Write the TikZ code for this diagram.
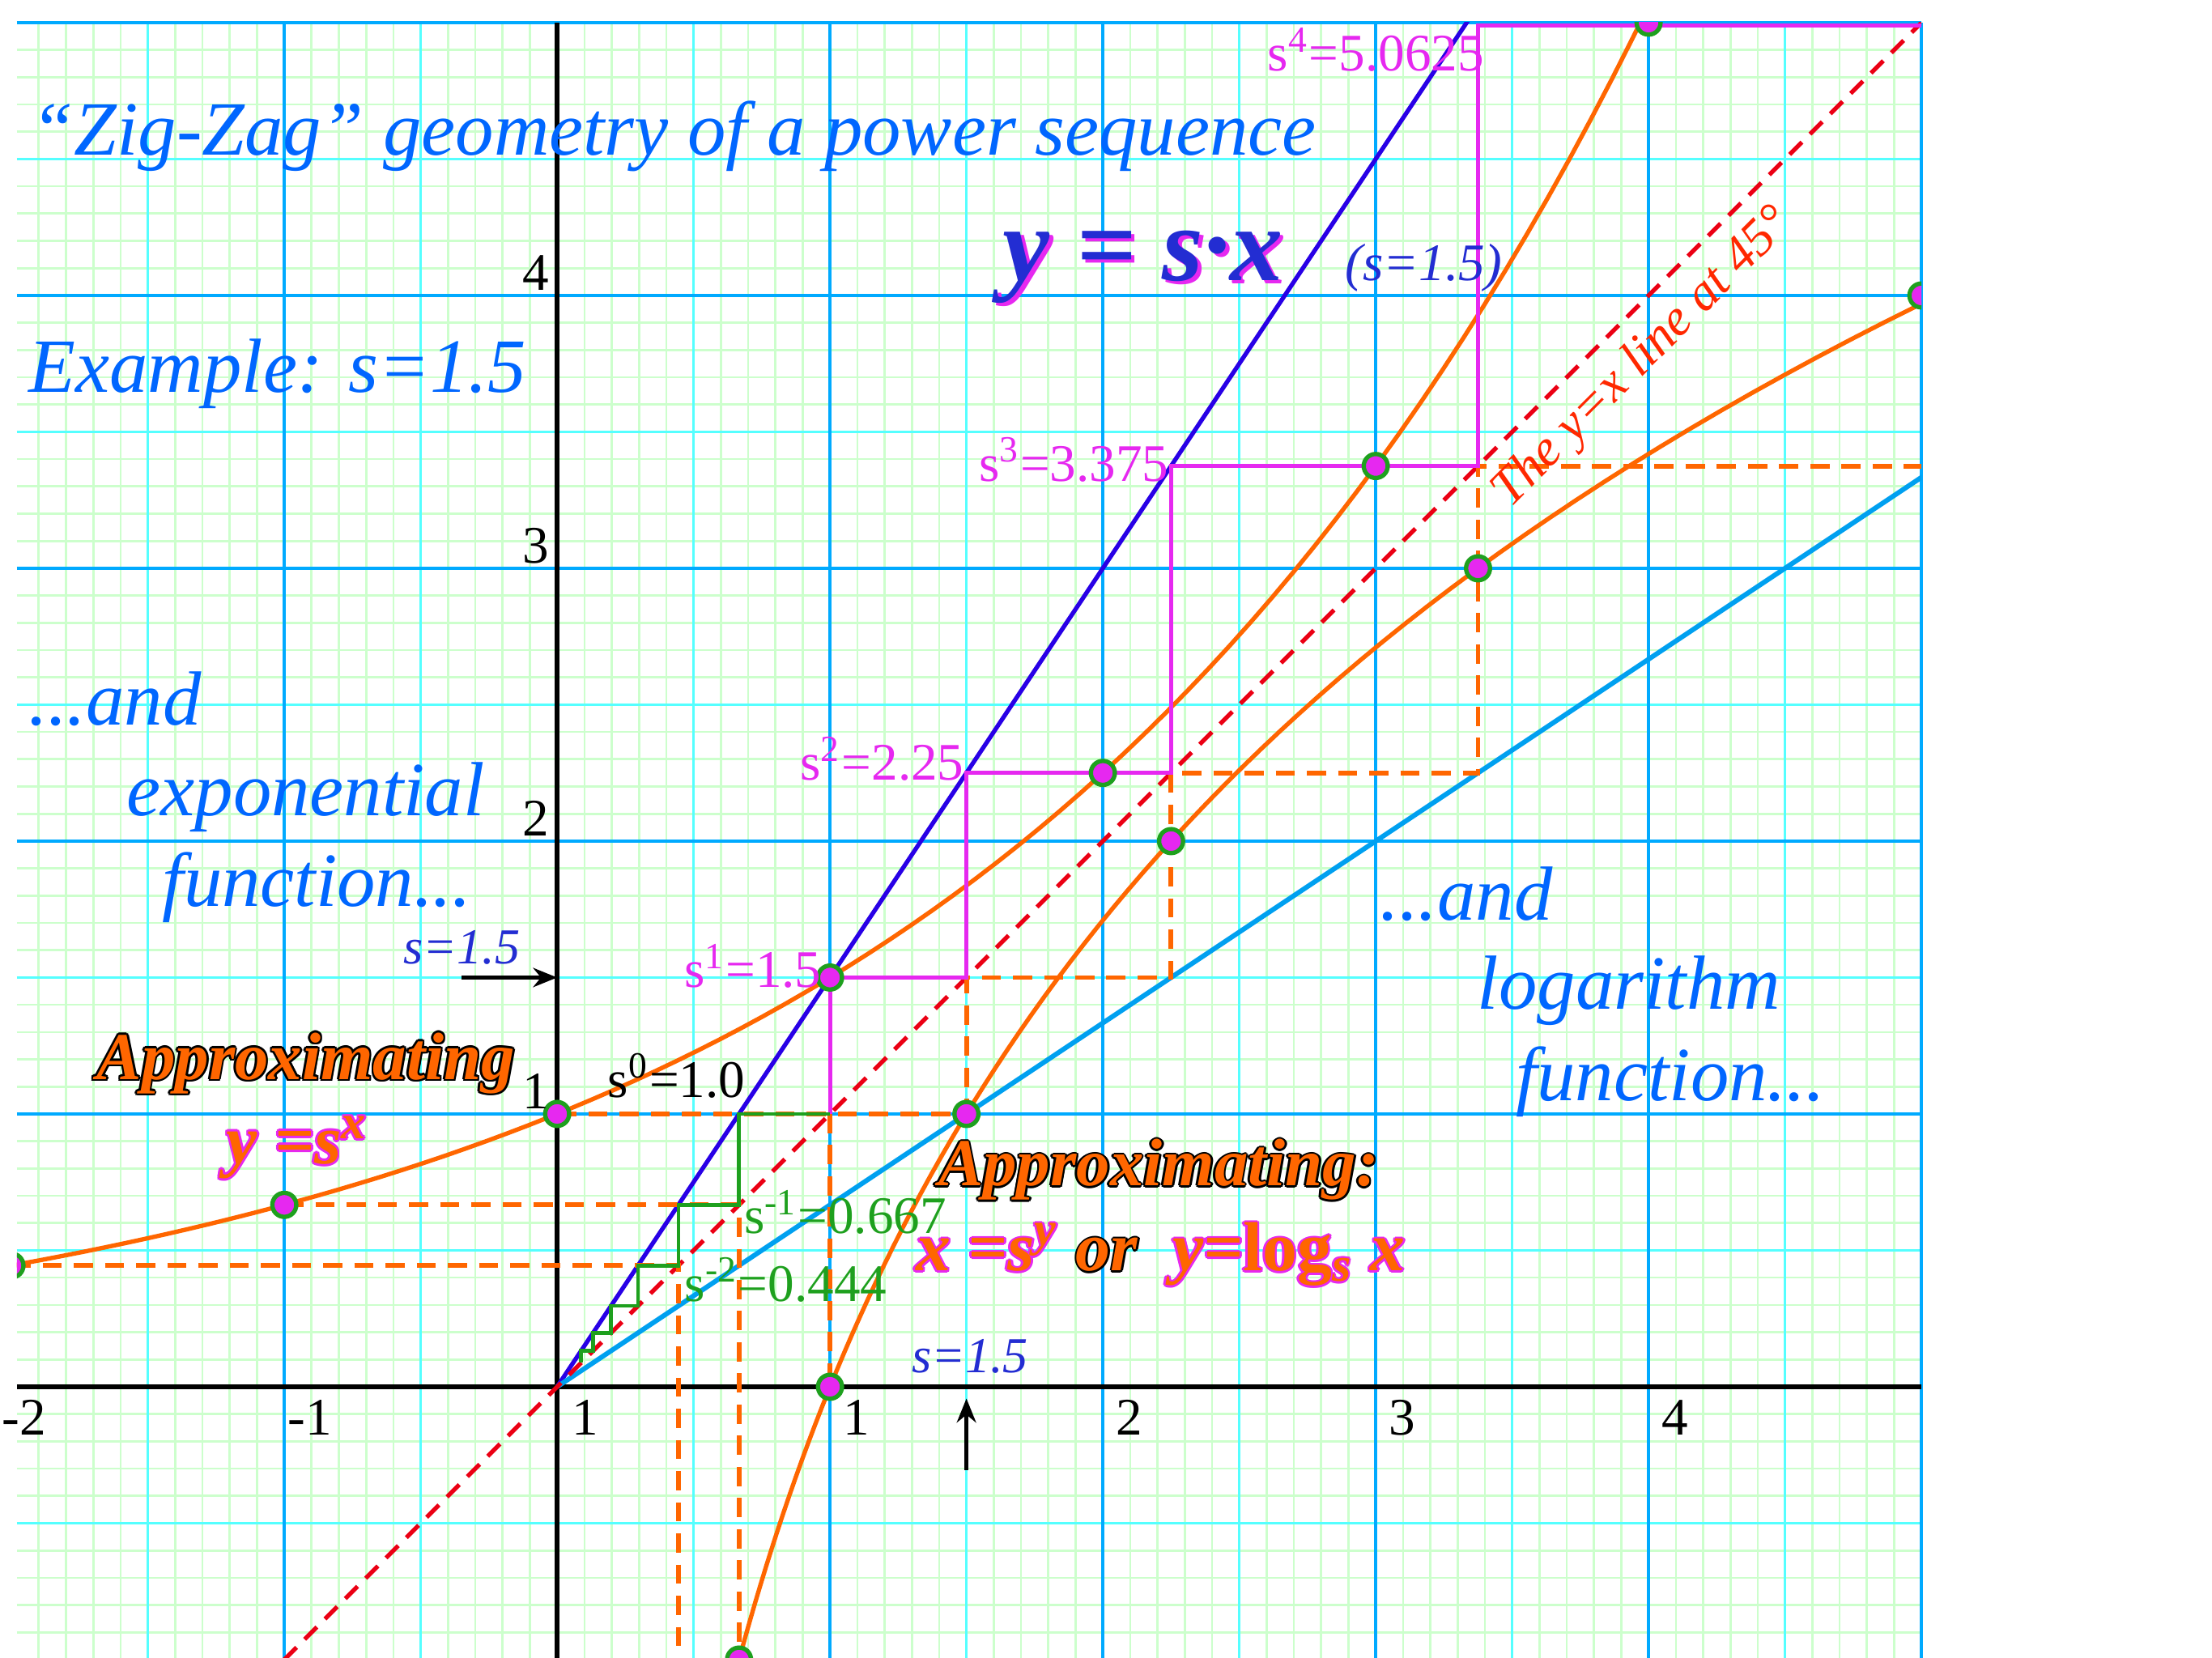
\documentclass[tikz,border=0pt]{standalone}
\usepackage{fontspec}
\setmainfont{Liberation Serif}
\usetikzlibrary{arrows.meta}

\definecolor{minorgreen}{RGB}{204,255,204}
\definecolor{halfcyan}{RGB}{85,255,255}
\definecolor{majorblue}{RGB}{0,170,255}
\definecolor{titleblue}{RGB}{0,102,255}
\definecolor{deepblue}{RGB}{35,45,210}
\definecolor{lineblue}{RGB}{40,0,230}
\definecolor{skyblue}{RGB}{0,160,240}
\definecolor{curveorange}{RGB}{255,102,0}
\definecolor{zigmagenta}{RGB}{230,40,240}
\definecolor{stairgreen}{RGB}{30,160,30}
\definecolor{diagred}{RGB}{235,0,20}
\definecolor{notered}{RGB}{255,40,0}

% outlined and shadowed lettering
\newsavebox{\glyphbox}
\newcommand{\outlinetext}[3]{\setbox\glyphbox\hbox{#3}%
  \makebox[\wd\glyphbox][l]{\color{#1}%
    \rlap{\raisebox{0.45pt}{\copy\glyphbox}}%
    \rlap{\raisebox{-0.45pt}{\copy\glyphbox}}%
    \rlap{\hspace{0.45pt}\copy\glyphbox}%
    \rlap{\hspace{-0.45pt}\copy\glyphbox}%
    \rlap{\hspace{0.32pt}\raisebox{0.32pt}{\copy\glyphbox}}%
    \rlap{\hspace{-0.32pt}\raisebox{0.32pt}{\copy\glyphbox}}%
    \rlap{\hspace{0.32pt}\raisebox{-0.32pt}{\copy\glyphbox}}%
    \rlap{\hspace{-0.32pt}\raisebox{-0.32pt}{\copy\glyphbox}}%
    \color{#2}\copy\glyphbox}}
\newcommand{\shadowtext}[3]{\setbox\glyphbox\hbox{#3}%
  \makebox[\wd\glyphbox][l]{%
    \rlap{\color{#1}\hspace{0.8pt}\raisebox{-0.8pt}{\copy\glyphbox}}%
    \color{#2}\copy\glyphbox}}

\begin{document}
\begin{tikzpicture}[scale=2,
  every node/.style={inner sep=0pt},
  minorgrid/.style={minorgreen, line width=0.45pt},
  halfgrid/.style={halfcyan, line width=0.55pt},
  majorgrid/.style={majorblue, line width=0.75pt},
  curve/.style={curveorange, line width=0.9pt},
  orangeguide/.style={curveorange, line width=1pt, dash pattern=on 4pt off 2.5pt},
  magstair/.style={zigmagenta, line width=0.8pt},
  greenstair/.style={stairgreen, line width=0.8pt},
  bead/.style={circle, fill=zigmagenta, draw=stairgreen, line width=0.9pt, minimum size=5pt},
  bluetext/.style={text=titleblue, font=\fontsize{16}{19}\selectfont\itshape},
  powerlabel/.style={font=\fontsize{11}{13}\selectfont},
  axisnum/.style={font=\fontsize{11}{13}\selectfont},
  sval/.style={text=deepblue, font=\fontsize{10.5}{12}\selectfont\itshape},
  approx/.style={font=\fontsize{14}{17}\selectfont\bfseries\itshape},
  pointer/.style={-{Stealth[length=5pt, width=4pt]}, line width=0.9pt}]

  \fill[white] (-2.042,-0.993) rectangle (6.065,5.083);
  \useasboundingbox (-2.042,-0.993) rectangle (6.065,5.083);

  % Graph paper
  \draw[minorgrid] (-1.98,-1) grid[step=0.1] (5,5);
  \draw[halfgrid] (-1.98,-1) grid[step=0.5] (5,5);
  \draw[majorgrid] (-1.98,-1) grid[step=1] (5,5);

  % Axes
  \draw[line width=1pt] (-1.98,0) -- (5,0);
  \draw[line width=1pt] (0,-1) -- (0,5);

  \begin{scope}
    \clip (-1.98,-1) rectangle (5,5);

    % Lines y=s*x, y=x/s and y=x
    \draw[lineblue, line width=0.9pt] (0,0) -- (3.375,5.0625);
    \draw[skyblue, line width=1pt] (0,0) -- (5.0625,3.375);
    \draw[diagred, line width=0.9pt, dash pattern=on 3.6pt off 2.4pt] (-1,-1) -- (5,5);

    % Exponential and logarithm
    \draw[curve] plot[domain=-2.05:4.1, samples=80] (\x,{exp(\x*ln(1.5))});
    \draw[curve] plot[domain=-1.05:4.1, samples=80] ({exp(\x*ln(1.5))},\x);

    % Dashed guides
    \draw[orangeguide] (-2,0.4444) -- (0.4444,0.4444) -- (0.4444,-1);
    \draw[orangeguide] (-1,0.6667) -- (0.6667,0.6667) -- (0.6667,-1);
    \draw[orangeguide] (1,1) -- (1,0);
    \draw[orangeguide] (0,1) -- (1.5,1) -- (1.5,1.5) -- (2.25,1.5) -- (2.25,2.25)
      -- (3.375,2.25) -- (3.375,3.375) -- (5,3.375);

    % Zig-zag up and down
    \draw[magstair] (1,1) -- (1,1.5) -- (1.5,1.5) -- (1.5,2.25) -- (2.25,2.25)
      -- (2.25,3.375) -- (3.375,3.375) -- (3.375,4.99) -- (5,4.99);
    \draw[greenstair] (1,1) \foreach \k in {1,...,6} {
      -- ({exp(-\k*ln(1.5))},{exp((1-\k)*ln(1.5))}) -- ({exp(-\k*ln(1.5))},{exp(-\k*ln(1.5))}) };

    % Points
    \foreach \px/\py [count=\i] in {-2/0.4444,-1/0.6667,0/1,1/1.5,2/2.25,3/3.375,4/5}
      \node[bead] (pow\i) at (\px,\py) {};
    \foreach \px/\py [count=\i] in {0.6667/-1,1/0,1.5/1,2.25/2,3.375/3,5/4}
      \node[bead] (log\i) at (\px,\py) {};
  \end{scope}

  % Axis numbers
  \foreach \n in {1,...,4}
    \node[axisnum, anchor=base east] (ynum\n) at (-0.025,\n+0.02) {\n};
  \node[axisnum, anchor=base east] (xnumm2) at (-1.87,-0.176) {-2};
  \node[axisnum, anchor=base west] (xnumm1) at (-0.99,-0.176) {-1};
  \node[axisnum, anchor=base west] (xnum0) at (0.05,-0.176) {1};
  \foreach \n in {1,...,4}
    \node[axisnum, anchor=base west] (xnum\n) at (\n+0.045,-0.176) {\n};

  % Titles
  \node[bluetext, anchor=base west] (title) at (-1.93,4.514) {“Zig-Zag” geometry of a power sequence};
  \node[bluetext, anchor=base west] (example) at (-1.94,3.645) {Example: s=1.5};
  \node[bluetext, anchor=base west] (and1) at (-1.94,2.427) {...and};
  \node[bluetext, anchor=base west] (expo) at (-1.581,2.094) {exponential};
  \node[bluetext, anchor=base west] (func1) at (-1.45,1.76) {function...};
  \node[bluetext, anchor=base west] (and2) at (3.012,1.712) {...and};
  \node[bluetext, anchor=base west] (loga) at (3.37,1.383) {logarithm};
  \node[bluetext, anchor=base west] (func2) at (3.51,1.048) {function...};

  % Line formula
  \node[font=\fontsize{22}{26}\selectfont\bfseries\itshape, anchor=base west] (linef) at (1.63,4.056)
    {\shadowtext{zigmagenta}{deepblue}{y = s·x}};
  \node[text=deepblue, font=\fontsize{11}{13}\selectfont\itshape, anchor=base west] (linepar) at (2.885,4.056) {(s=1.5)};
  \node[text=notered, font=\fontsize{10.8}{13}\selectfont\itshape, rotate=45, anchor=base west] (diagnote)
    at (3.49,3.215) {The y=x line at 45°};

  % Powers of s
  \node[powerlabel, text=zigmagenta, anchor=base east] (p4) at (3.40,4.823) {s\textsuperscript{4}=5.0625};
  \node[powerlabel, text=zigmagenta, anchor=base east] (p3) at (2.245,3.32) {s\textsuperscript{3}=3.375};
  \node[powerlabel, text=zigmagenta, anchor=base east] (p2) at (1.494,2.223) {s\textsuperscript{2}=2.25};
  \node[powerlabel, text=zigmagenta, anchor=base east] (p1) at (0.972,1.463) {s\textsuperscript{1}=1.5};
  \node[powerlabel, anchor=base west] (p0) at (0.183,1.061) {s\textsuperscript{0}=1.0};
  \node[powerlabel, text=stairgreen, anchor=base west] (pm1) at (0.682,0.561) {s\textsuperscript{-1}=0.667};
  \node[powerlabel, text=stairgreen, anchor=base west] (pm2) at (0.464,0.314) {s\textsuperscript{-2}=0.444};

  % Markers for s
  \node[sval, anchor=base west] (sleft) at (-0.566,1.549) {s=1.5};
  \node[sval, anchor=base west] (sdown) at (1.296,0.053) {s=1.5};
  \coordinate (ytail) at (-0.35,1.5);
  \coordinate (yhead) at (0,1.5);
  \coordinate (xtail) at (1.5,-0.306);
  \coordinate (xhead) at (1.5,-0.043);
  \draw[pointer] (ytail) -- (yhead);
  \draw[pointer] (xtail) -- (xhead);

  % Approximating labels
  \node[approx, anchor=base west] (apleft) at (-1.69,1.127) {\outlinetext{black}{curveorange}{Approximating}};
  \node[approx, font=\fontsize{14.5}{17}\selectfont\bfseries\itshape, anchor=base west] (expf) at (-1.215,0.817)
    {\outlinetext{zigmagenta}{curveorange}{y =s\textsuperscript{x}}};
  \node[approx, anchor=base west] (apright) at (1.394,0.736) {\outlinetext{black}{curveorange}{Approximating:}};
  \node[approx, font=\fontsize{14.5}{17}\selectfont\bfseries\itshape, anchor=base west] (logf) at (1.311,0.4245)
    {\outlinetext{zigmagenta}{curveorange}{x =s\textsuperscript{y}} \outlinetext{black}{curveorange}{or}\ \ \outlinetext{zigmagenta}{curveorange}{y=\textup{log}\textsubscript{s} x}};
\end{tikzpicture}
\end{document}
